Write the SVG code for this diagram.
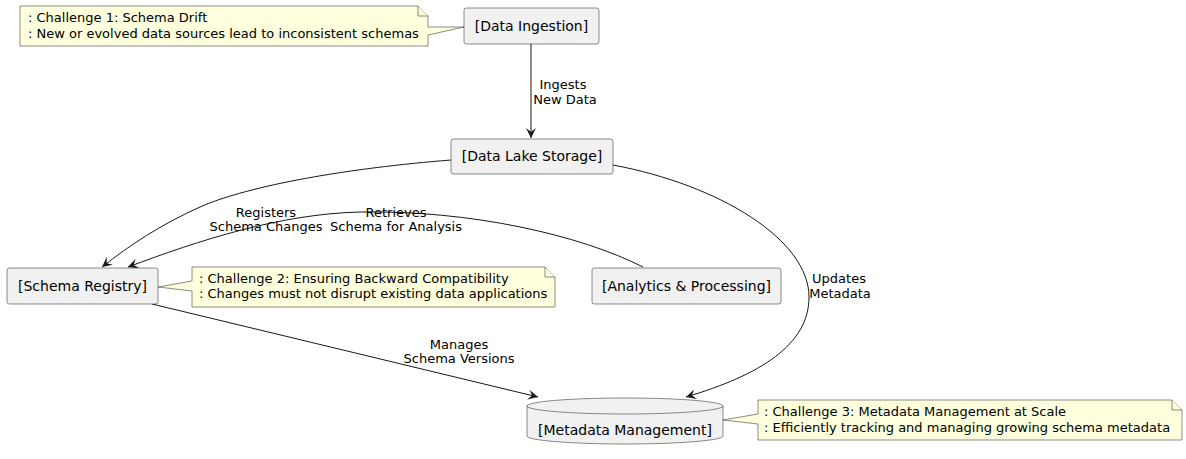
<svg xmlns="http://www.w3.org/2000/svg" width="1186" height="459" viewBox="0 0 1186 459">
<defs>
<style>
.node{fill:#F1F1F1;stroke:#181818;stroke-width:0.5}
.ntext{font-family:"DejaVu Sans",sans-serif;font-size:14px;fill:#000}
.note{fill:#FEFFDD;stroke:#181818;stroke-width:0.5}
.notetext{font-family:"DejaVu Sans",sans-serif;font-size:13px;fill:#000}
.edge{fill:none;stroke:#181818;stroke-width:1}
.elabel{font-family:"DejaVu Sans",sans-serif;font-size:13px;fill:#000;text-anchor:middle}
</style>
<marker id="arr" viewBox="0 0 10 10" refX="10" refY="5" markerWidth="10" markerHeight="10" markerUnits="userSpaceOnUse" orient="auto">
<path d="M0,0 L10,5 L0,10 L4,5 Z" fill="#181818"/>
</marker>
</defs>
<rect width="1186" height="459" fill="#FFFFFF"/>
<g id="connectors">
<path class="edge" d="M531,44 L531,138" marker-end="url(#arr)"/>
<text class="elabel" x="563" y="89">Ingests</text>
<text class="elabel" x="565" y="104">New Data</text>
<path class="edge" d="M451,160 C350,168 250,185 200,207 C160,225 130,245 102,267" marker-end="url(#arr)"/>
<text class="elabel" x="266" y="217">Registers</text>
<text class="elabel" x="266" y="231">Schema Changes</text>
<path class="edge" d="M643,267 C580,235 470,210 360,212 C280,214 200,240 128,267" marker-end="url(#arr)"/>
<text class="elabel" x="396" y="217">Retrieves</text>
<text class="elabel" x="396" y="231">Schema for Analysis</text>
<path class="edge" d="M152,304 L538,397" marker-end="url(#arr)"/>
<text class="elabel" x="459" y="349">Manages</text>
<text class="elabel" x="459" y="363">Schema Versions</text>
<path class="edge" d="M613,165 C720,185 809,240 809,297 C809,345 760,375 686,397" marker-end="url(#arr)"/>
<text class="elabel" x="839" y="283">Updates</text>
<text class="elabel" x="840" y="298">Metadata</text>
</g>
<g id="note1">
<path class="note" d="M20,6 L418,6 L428,16 L428,27 L464,27 L428,35 L428,46 L20,46 Z"/>
<path class="note" d="M418,6 L418,16 L428,16"/>
<text class="notetext" x="28" y="22">: Challenge 1: Schema Drift</text>
<text class="notetext" x="28" y="38">: New or evolved data sources lead to inconsistent schemas</text>
</g>
<g id="data-ingestion">
<rect class="node" x="464" y="8" width="135" height="36" rx="2.5"/>
<text class="ntext" x="531.5" y="31" text-anchor="middle">[Data Ingestion]</text>
</g>
<g id="data-lake-storage">
<rect class="node" x="451" y="139" width="162" height="35" rx="2.5"/>
<text class="ntext" x="532" y="161" text-anchor="middle">[Data Lake Storage]</text>
</g>
<g id="schema-registry">
<rect class="node" x="7" y="268" width="151" height="36" rx="2.5"/>
<text class="ntext" x="82.5" y="291" text-anchor="middle">[Schema Registry]</text>
</g>
<g id="note2">
<path class="note" d="M192,267 L545,267 L555,277 L555,307 L192,307 L192,291 L158,287 L192,281 Z"/>
<path class="note" d="M545,267 L545,277 L555,277"/>
<text class="notetext" x="199" y="283">: Challenge 2: Ensuring Backward Compatibility</text>
<text class="notetext" x="199" y="298">: Changes must not disrupt existing data applications</text>
</g>
<g id="analytics-processing">
<rect class="node" x="592" y="268" width="189" height="36" rx="2.5"/>
<text class="ntext" x="686.5" y="291" text-anchor="middle">[Analytics &amp; Processing]</text>
</g>
<g id="metadata-management">
<path class="node" d="M527,406 A98,8 0 0 1 723,406 L723,436 A98,8 0 0 1 527,436 Z"/>
<path class="node" style="fill:none" d="M527,406 A98,8 0 0 0 723,406"/>
<text class="ntext" x="625" y="435" text-anchor="middle">[Metadata Management]</text>
</g>
<g id="note3">
<path class="note" d="M758,400 L1172,400 L1182,410 L1182,440 L758,440 L758,424 L723,420 L758,414 Z"/>
<path class="note" d="M1172,400 L1172,410 L1182,410"/>
<text class="notetext" x="764" y="416">: Challenge 3: Metadata Management at Scale</text>
<text class="notetext" x="764" y="432">: Efficiently tracking and managing growing schema metadata</text>
</g>
</svg>
